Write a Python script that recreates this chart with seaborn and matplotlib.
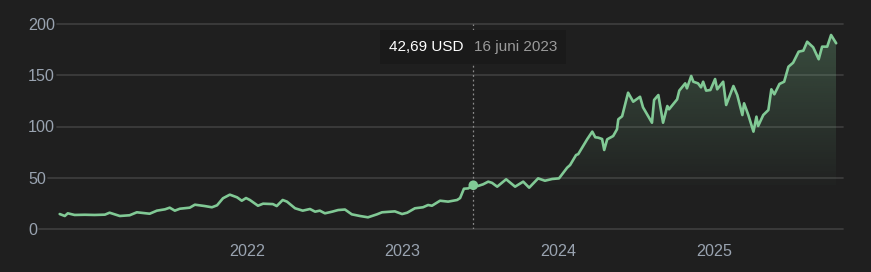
import numpy as np
import pandas as pd
import matplotlib
matplotlib.use("Agg")
import matplotlib.pyplot as plt
import matplotlib.dates as mdates
from matplotlib.patches import Rectangle
from matplotlib.transforms import IdentityTransform
import seaborn as sns

# ---------------- data ----------------
dates = [
    "2020-10-19", "2020-10-31", "2020-11-07", "2020-11-23", "2020-12-17", "2021-01-09",
    "2021-02-02", "2021-02-13", "2021-03-09", "2021-04-01", "2021-04-18", "2021-05-18",
    "2021-06-04", "2021-06-23", "2021-07-04", "2021-07-16", "2021-07-28", "2021-08-20",
    "2021-09-01", "2021-09-24", "2021-10-11", "2021-10-23", "2021-11-06", "2021-11-22",
    "2021-12-09", "2021-12-20", "2021-12-30", "2022-01-08", "2022-01-27", "2022-02-08",
    "2022-03-03", "2022-03-12", "2022-03-26", "2022-04-05", "2022-04-24", "2022-05-12",
    "2022-05-29", "2022-06-10", "2022-06-21", "2022-07-03", "2022-07-20", "2022-08-03",
    "2022-08-19", "2022-09-04", "2022-09-23", "2022-10-12", "2022-11-02", "2022-11-14",
    "2022-12-03", "2022-12-14", "2022-12-31", "2023-01-12", "2023-01-30", "2023-02-18",
    "2023-03-02", "2023-03-11", "2023-03-30", "2023-04-18", "2023-05-09", "2023-05-16",
    "2023-05-25", "2023-06-04", "2023-06-16", "2023-06-27", "2023-07-09", "2023-07-21",
    "2023-07-30", "2023-08-11", "2023-09-01", "2023-09-22", "2023-10-11", "2023-10-25",
    "2023-11-15", "2023-12-01", "2023-12-18", "2024-01-03", "2024-01-22", "2024-01-29",
    "2024-02-12", "2024-02-17", "2024-03-09", "2024-03-21", "2024-03-28", "2024-04-04",
    "2024-04-13", "2024-04-18", "2024-04-25", "2024-05-09", "2024-05-18", "2024-05-21",
    "2024-05-30", "2024-06-13", "2024-06-25", "2024-07-11", "2024-07-18", "2024-08-08",
    "2024-08-13", "2024-08-23", "2024-09-03", "2024-09-13", "2024-09-17", "2024-10-06",
    "2024-10-11", "2024-10-25", "2024-10-29", "2024-11-08", "2024-11-13", "2024-11-24",
    "2024-12-01", "2024-12-06", "2024-12-13", "2024-12-23", "2025-01-03", "2025-01-08",
    "2025-01-22", "2025-01-29", "2025-02-15", "2025-02-24", "2025-03-08", "2025-03-12",
    "2025-03-22", "2025-04-03", "2025-04-10", "2025-04-14", "2025-04-26", "2025-05-08",
    "2025-05-15", "2025-05-22", "2025-06-03", "2025-06-14", "2025-06-24", "2025-07-05",
    "2025-07-18", "2025-07-29", "2025-08-07", "2025-08-21", "2025-09-03", "2025-09-11",
    "2025-09-23", "2025-10-02", "2025-10-14",
]
prices = [
    14.6, 12.7, 15.3, 13.7, 13.9, 13.7,
    14.0, 15.9, 12.7, 13.4, 16.3, 14.9,
    17.9, 19.2, 20.8, 17.9, 19.8, 20.8,
    23.7, 22.4, 21.2, 23.1, 30.0, 33.5,
    30.9, 27.6, 30.2, 28.3, 22.7, 24.7,
    24.3, 22.4, 28.3, 26.7, 20.2, 17.9,
    19.5, 16.9, 17.9, 15.3, 16.9, 18.5,
    19.0, 14.3, 12.7, 11.4, 14.3, 16.3,
    16.9, 17.2, 14.6, 15.9, 20.2, 21.2,
    23.4, 22.7, 27.6, 26.7, 28.3, 30.2,
    39.3, 39.6, 42.69, 42.0, 43.6, 46.2,
    45.0, 41.3, 48.5, 41.3, 46.2, 40.3,
    49.4, 47.1, 48.8, 49.4, 59.8, 62.4,
    72.2, 73.0, 87.5, 95.0, 89.5, 89.1,
    87.8, 77.1, 87.5, 90.7, 97.3, 107.0,
    110.0, 133.0, 124.2, 129.0, 118.7, 103.7,
    125.9, 130.7, 103.7, 120.0, 116.8, 126.5,
    135.0, 142.1, 137.2, 149.3, 143.7, 142.1,
    138.2, 143.7, 135.0, 135.6, 146.3, 136.3,
    143.7, 121.0, 139.5, 130.7, 111.2, 122.6,
    111.2, 95.0, 109.6, 100.5, 111.2, 116.1,
    136.3, 131.4, 141.5, 143.7, 158.3, 162.2,
    173.0, 174.0, 182.7, 177.3, 165.6, 177.9,
    177.9, 189.3, 181.2,
]
hover_date = "2023-06-16"
hover_value = 42.69
currency = "USD"
year_ticks = [2022, 2023, 2024, 2025]
y_ticks = [0, 50, 100, 150, 200]
months_nl = ["januari", "februari", "maart", "april", "mei", "juni", "juli",
             "augustus", "september", "oktober", "november", "december"]

# ---------------- style ----------------
BG = "#1f1f1f"
GRID = "#3c3c3c"
TXT = "#99a3b0"
GREEN = "#81c995"
W, H = 871, 272

sns.set_style("dark")
plt.rcParams["font.family"] = ["Liberation Sans", "DejaVu Sans"]

fig = plt.figure(figsize=(W / 100, H / 100), dpi=100, facecolor=BG)
ax = fig.add_axes([55 / W, 43 / H, 788 / W, 205 / H])
ax.set_facecolor(BG)
for s in ax.spines.values():
    s.set_visible(False)

df = pd.DataFrame({"date": pd.to_datetime(dates), "price": prices})
hover_ts = pd.Timestamp(hover_date)
hover_num = mdates.date2num(hover_ts)

sns.lineplot(data=df, x="date", y="price", ax=ax, color=GREEN,
             linewidth=1.9, zorder=4)

# gradient area from hover point to end
sub = df[df["date"] >= hover_ts]
poly = ax.fill_between(sub["date"], hover_value, sub["price"],
                       color="none", linewidth=0)
x0 = mdates.date2num(sub["date"].iloc[0])
x1 = mdates.date2num(sub["date"].iloc[-1])
ymax = sub["price"].max()
n = 256
rgba = np.zeros((n, 1, 4))
rgba[:, 0, :3] = matplotlib.colors.to_rgb(GREEN)
rgba[:, 0, 3] = np.linspace(0.27, 0.02, n)
img = ax.imshow(rgba, extent=[x0, x1, hover_value, ymax], origin="upper",
                aspect="auto", zorder=2, interpolation="bilinear")
img.set_clip_path(poly.get_paths()[0], transform=ax.transData)

# hover line and marker
ax.axvline(hover_ts, color="#8a8a8a", linestyle=(0, (1.5, 2.2)),
           linewidth=0.9, zorder=3)
sns.scatterplot(x=[hover_ts], y=[hover_value], ax=ax, color=GREEN, s=48,
                edgecolor="none", zorder=5, legend=False)

ax.set_xlim(pd.Timestamp("2020-10-08"), pd.Timestamp("2025-10-30"))
ax.set_ylim(0, 200)
ax.grid(False)
ax.set_xlabel("")
ax.set_ylabel("")

ax.set_xticks([pd.Timestamp(f"{y}-01-01") for y in year_ticks])
ax.set_xticklabels([str(y) for y in year_ticks])
ax.set_yticks(y_ticks)
ax.set_yticklabels([str(v) for v in y_ticks])
ax.tick_params(axis="x", length=8, width=1, color=GRID, labelcolor=TXT,
               labelsize=11.6, pad=3, direction="out")
ax.tick_params(axis="y", length=0, pad=19.5, labelcolor=TXT, labelsize=11.6)
for lbl in ax.get_yticklabels():
    lbl.set_horizontalalignment("left")

fig.canvas.draw()
renderer = fig.canvas.get_renderer()
abox = ax.get_window_extent(renderer)
for val, lbl in zip(y_ticks, ax.get_yticklabels()):
    bb = lbl.get_window_extent(renderer)
    xmin = (bb.x1 + 2 - abox.x0) / abox.width
    ax.axhline(val, xmin=xmin, xmax=1, color=GRID, linewidth=1.3,
               clip_on=False, zorder=1)

# tooltip
hx = ax.transData.transform((hover_num, 0))[0]
box = Rectangle((hx - 93, H - 64), 186, 34, facecolor="#1a1a1a",
                edgecolor="none", transform=IdentityTransform(), zorder=2)
fig.add_artist(box)
val_txt = f"{hover_value:.2f}".replace(".", ",") + f" {currency}"
date_txt = f"{hover_ts.day} {months_nl[hover_ts.month - 1]} {hover_ts.year}"
fig.text((hx - 10) / W, (H - 47) / H, val_txt, color="#ffffff", fontsize=11,
         ha="right", va="center", zorder=3)
fig.text((hx + 1) / W, (H - 47) / H, date_txt, color="#9a9a9a", fontsize=11,
         ha="left", va="center", zorder=3)

fig.savefig("out.png", dpi=100, facecolor=BG)
